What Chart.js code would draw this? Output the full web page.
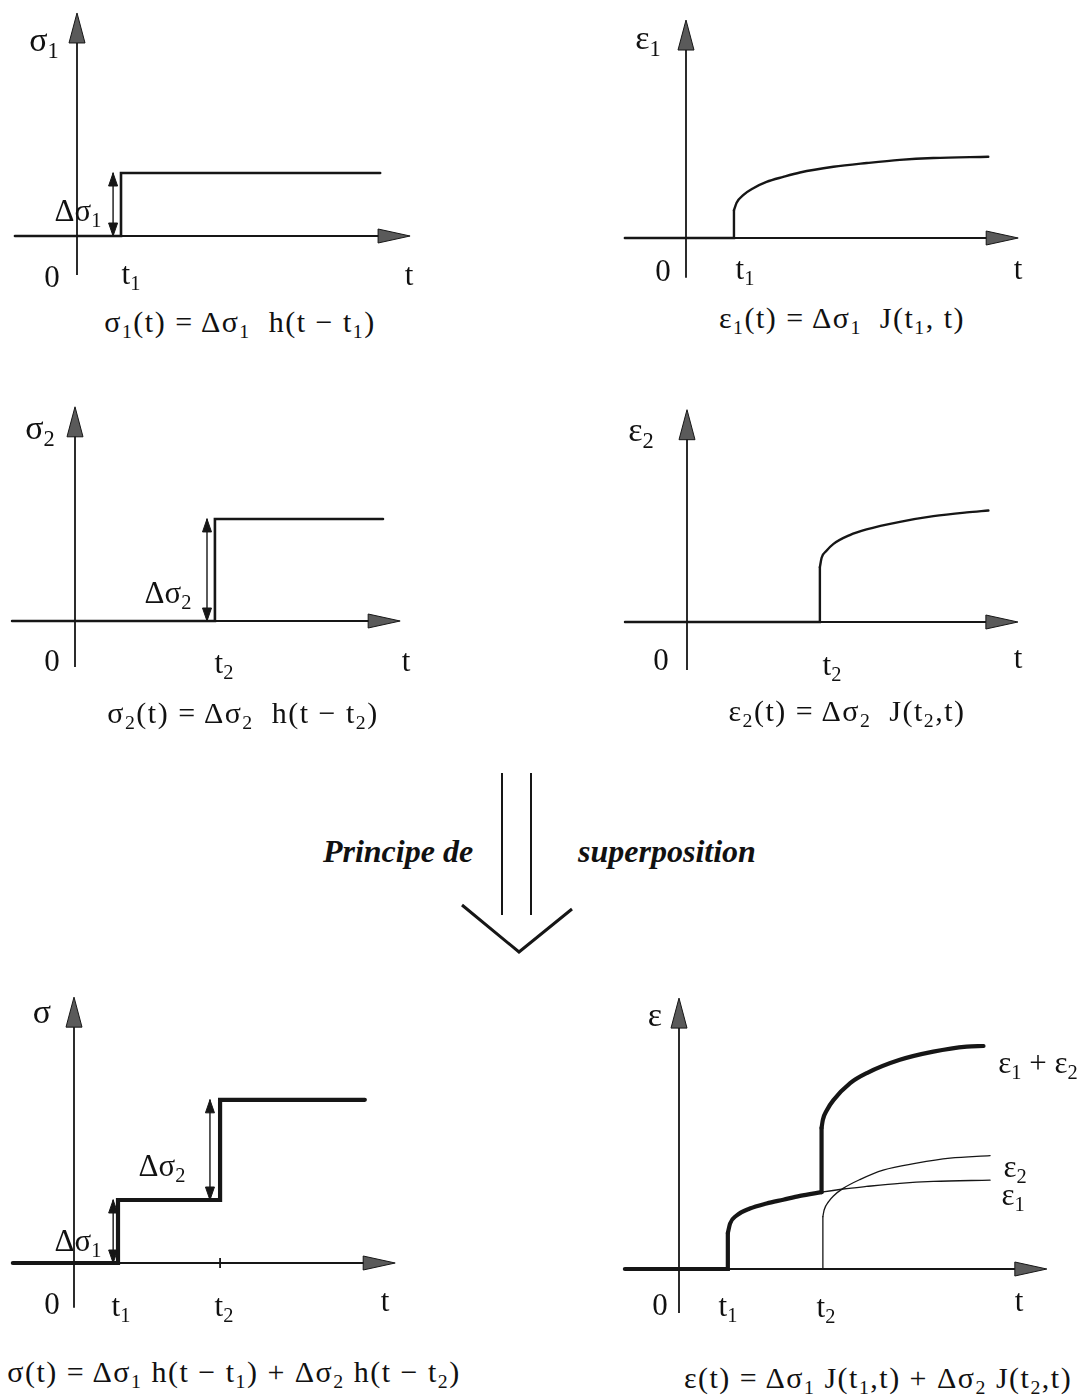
<!DOCTYPE html>
<html>
<head>
<meta charset="utf-8">
<script src="https://cdn.jsdelivr.net/npm/chart.js@4.4.0/dist/chart.umd.min.js"></script>
<style>
  body { margin: 0; background: #fff; }
  #page { position: relative; width: 1089px; height: 1396px; overflow: hidden;
          font-family: 'Liberation Serif', 'Times New Roman', serif; color: #111; }
  canvas { position: absolute; }
  .lbl { position: absolute; transform: translate(-50%, -50%); white-space: nowrap; line-height: 1; z-index: 2; }
  .lbl sub { font-size: 0.66em; vertical-align: -0.32em; line-height: 0; }
  .ax { font-size: 34px; }
  .tk { font-size: 31px; }
  .fm { font-size: 30px; letter-spacing: 1.5px; }
  .pr { font-size: 32px; font-weight: bold; font-style: italic; }
</style>
</head>
<body>
<div id="page">
  <svg width="1089" height="1396" style="position:absolute;left:0;top:0">
    <g stroke="#161616" fill="none">
      <line x1="502" y1="773" x2="502" y2="915" stroke-width="2"/>
      <line x1="531" y1="773" x2="531" y2="915" stroke-width="2"/>
      <polyline points="462,905 519,952 572,909" stroke-width="3"/>
    </g>
  </svg>
</div>
<script>
const INK = '#161616';
const KX = 44, KY = 63; // px per time unit / per stress unit

// time in units where t1 ~ 1, values in units of delta sigma 1

// 1. sigma1 step
const s1T = [-1.41, 1.0, 1.0, 6.89];
const s1V = [0, 0, 1.0, 1.0];
const s1Arrow = [0.82, 0, 1.0];

// 2. eps1 creep
const e1JumpT = [-1.39, 1.09, 1.09];
const e1JumpV = [0, 0, 0.44];
const e1T = [1.09, 1.15, 1.30, 1.53, 1.83, 2.21, 2.59, 3.35, 4.11, 4.86, 5.62, 6.87];
const e1V = [0.44, 0.56, 0.68, 0.79, 0.89, 0.97, 1.04, 1.13, 1.19, 1.24, 1.27, 1.29];

// 3. sigma2 step
const s2T = [-1.43, 3.18, 3.18, 7.0];
const s2V = [0, 0, 1.62, 1.62];
const s2Arrow = [3.0, 0, 1.62];

// 4. eps2 creep
const e2JumpT = [-1.41, 3.02, 3.02];
const e2JumpV = [0, 0, 0.87];
const e2T = [3.02, 3.06, 3.17, 3.33, 3.70, 4.08, 4.84, 5.60, 6.36, 6.85];
const e2V = [0.87, 1.02, 1.13, 1.24, 1.38, 1.47, 1.59, 1.68, 1.74, 1.77];

// 5. total stress
const sT = [-1.39, 1.0, 1.0, 3.32, 3.32, 6.61];
const sV = [0, 0, 1.0, 1.0, 2.59, 2.59];
const sArrow1 = [0.89, 0, 1.0];
const sArrow2 = [3.09, 1.0, 2.59];
const sTicks = [3.32];

// 6. total strain
const eJumpT = [-1.23, 1.11, 1.11];
const eJumpV = [0, 0, 0.57];
const eE1T = [1.11, 1.16, 1.31, 1.61, 1.99, 2.37, 2.75, 3.24, 3.73, 4.26, 5.02, 5.78, 7.07];
const eE1V = [0.57, 0.72, 0.85, 0.96, 1.04, 1.10, 1.16, 1.22, 1.27, 1.31, 1.36, 1.39, 1.41];
const eE2JumpT = [3.27, 3.27];
const eE2JumpV = [0, 0.83];
const eE2T = [3.27, 3.30, 3.40, 3.51, 3.73, 4.11, 4.64, 5.40, 6.16, 7.07];
const eE2V = [0.83, 0.94, 1.07, 1.16, 1.28, 1.42, 1.57, 1.68, 1.76, 1.80];
const eSumJumpT = [3.24, 3.24];
const eSumJumpV = [1.22, 2.24];
const eSumT = [3.24, 3.27, 3.36, 3.51, 3.89, 4.27, 5.02, 5.78, 6.54, 6.92];
const eSumV = [2.24, 2.37, 2.52, 2.68, 2.95, 3.11, 3.32, 3.45, 3.53, 3.54];

function pts(xs, ys) { return xs.map((x, i) => ({ x: x, y: ys[i] })); }

function line(xs, ys, width, smooth) {
  return {
    data: pts(xs, ys), showLine: true, borderColor: INK, borderWidth: width,
    pointRadius: 0, fill: false, tension: 0, borderCapStyle: 'round',
    cubicInterpolationMode: smooth ? 'monotone' : 'default'
  };
}

function arrow(a) {
  const ds = line([a[0], a[0]], [a[1], a[2]], 1.4, false);
  ds.arrowEnds = true;
  return ds;
}

function head(ctx, tx, ty, dx, dy, len, hw, fill) {
  const bx = tx - dx * len, by = ty - dy * len;
  ctx.beginPath();
  ctx.moveTo(tx, ty);
  ctx.lineTo(bx - dy * hw, by + dx * hw);
  ctx.lineTo(bx + dy * hw, by - dx * hw);
  ctx.closePath();
  ctx.fillStyle = fill;
  ctx.fill();
  ctx.lineWidth = 1;
  ctx.strokeStyle = INK;
  ctx.stroke();
}

const axesPlugin = {
  id: 'axes',
  beforeDatasetsDraw(chart, args, opts) {
    const ctx = chart.ctx, x = chart.scales.x, y = chart.scales.y;
    const x0 = x.getPixelForValue(0), y0 = y.getPixelForValue(0);
    const xa = x.getPixelForValue(opts.ext[0]), xb = x.getPixelForValue(opts.ext[1]);
    const ya = y.getPixelForValue(opts.ext[2]), yb = y.getPixelForValue(opts.ext[3]);
    ctx.save();
    ctx.strokeStyle = INK;
    ctx.lineWidth = 1.8;
    ctx.beginPath();
    ctx.moveTo(xa, y0); ctx.lineTo(xb - 12, y0);
    ctx.moveTo(x0, ya); ctx.lineTo(x0, yb + 12);
    ctx.stroke();
    (opts.ticks || []).forEach(t => {
      const px = x.getPixelForValue(t);
      ctx.beginPath(); ctx.moveTo(px, y0 - 5); ctx.lineTo(px, y0 + 5); ctx.stroke();
    });
    head(ctx, xb, y0, 1, 0, 32, 7, '#5a5a5a');
    head(ctx, x0, yb, 0, -1, 30, 8, '#5a5a5a');
    ctx.restore();
  },
  afterDatasetsDraw(chart) {
    const ctx = chart.ctx;
    ctx.save();
    chart.data.datasets.forEach((ds, i) => {
      if (!ds.arrowEnds) return;
      const p = chart.getDatasetMeta(i).data;
      const a = p[0], b = p[p.length - 1];
      const dx = b.x - a.x, dy = b.y - a.y, L = Math.hypot(dx, dy);
      head(ctx, b.x, b.y, dx / L, dy / L, 13, 4.5, INK);
      head(ctx, a.x, a.y, -dx / L, -dy / L, 13, 4.5, INK);
    });
    ctx.restore();
  }
};

const panels = [
  { box: { l: 0, t: 0, w: 440, h: 300 }, origin: { x: 77, y: 236 }, ext: [-1.41, 7.57, -0.62, 3.54],
    sets: [line(s1T, s1V, 2.6), arrow(s1Arrow)] },
  { box: { l: 600, t: 0, w: 460, h: 300 }, origin: { x: 686, y: 238 }, ext: [-1.39, 7.55, -0.63, 3.46],
    sets: [line(e1JumpT, e1JumpV, 2.4), line(e1T, e1V, 2.4, true)] },
  { box: { l: 0, t: 390, w: 440, h: 300 }, origin: { x: 75, y: 621 }, ext: [-1.43, 7.39, -0.73, 3.40],
    sets: [line(s2T, s2V, 2.6), arrow(s2Arrow)] },
  { box: { l: 600, t: 390, w: 460, h: 300 }, origin: { x: 687, y: 622 }, ext: [-1.41, 7.52, -0.76, 3.37],
    sets: [line(e2JumpT, e2JumpV, 2.4), line(e2T, e2V, 2.4, true)] },
  { box: { l: 0, t: 980, w: 440, h: 350 }, origin: { x: 74, y: 1263 }, ext: [-1.39, 7.30, -0.71, 4.22], ticks: sTicks,
    sets: [line(sT, sV, 4.2), arrow(sArrow1), arrow(sArrow2)] },
  { box: { l: 600, t: 980, w: 489, h: 350 }, origin: { x: 679, y: 1269 }, ext: [-1.23, 8.36, -0.70, 4.30],
    sets: [
      line(eE1T, eE1V, 1.3, true),
      line(eE2JumpT, eE2JumpV, 1.3),
      line(eE2T, eE2V, 1.3, true),
      line(eJumpT, eJumpV, 4.2),
      line(eE1T.slice(0, 8), eE1V.slice(0, 8), 4.2, true),
      line(eSumJumpT, eSumJumpV, 4.2),
      line(eSumT, eSumV, 4.2, true)
    ] }
];

const page = document.getElementById('page');

panels.forEach(p => {
  const cv = document.createElement('canvas');
  cv.width = p.box.w; cv.height = p.box.h;
  cv.style.left = p.box.l + 'px'; cv.style.top = p.box.t + 'px';
  cv.style.width = p.box.w + 'px'; cv.style.height = p.box.h + 'px';
  page.appendChild(cv);
  new Chart(cv, {
    type: 'scatter',
    data: { datasets: p.sets },
    options: {
      responsive: false, animation: false, devicePixelRatio: 1, events: [],
      layout: { padding: 0 },
      scales: {
        x: { type: 'linear', display: false,
             min: (p.box.l - p.origin.x) / KX, max: (p.box.l + p.box.w - p.origin.x) / KX },
        y: { type: 'linear', display: false,
             min: (p.origin.y - p.box.t - p.box.h) / KY, max: (p.origin.y - p.box.t) / KY }
      },
      plugins: { legend: { display: false }, tooltip: { enabled: false },
                 axes: { ext: p.ext, ticks: p.ticks } }
    },
    plugins: [axesPlugin]
  });
});

const texts = [
  ['σ<sub>1</sub>', 44, 40, 'ax'], ['0', 52, 276, 'tk'], ['t<sub>1</sub>', 131, 273, 'tk'], ['t', 409, 274, 'tk'],
  ['Δσ<sub>1</sub>', 78, 210, 'tk'],
  ['σ<sub>1</sub>(t) = Δσ<sub>1</sub>&nbsp; h(t − t<sub>1</sub>)', 240, 322, 'fm'],

  ['ε<sub>1</sub>', 648, 38, 'ax'], ['0', 663, 270, 'tk'], ['t<sub>1</sub>', 745, 268, 'tk'], ['t', 1018, 268, 'tk'],
  ['ε<sub>1</sub>(t) = Δσ<sub>1</sub>&nbsp; J(t<sub>1</sub>, t)', 842, 318, 'fm'],

  ['σ<sub>2</sub>', 40, 428, 'ax'], ['0', 52, 660, 'tk'], ['t<sub>2</sub>', 224, 662, 'tk'], ['t', 406, 660, 'tk'],
  ['Δσ<sub>2</sub>', 168, 592, 'tk'],
  ['σ<sub>2</sub>(t) = Δσ<sub>2</sub>&nbsp; h(t − t<sub>2</sub>)', 243, 713, 'fm'],

  ['ε<sub>2</sub>', 641, 430, 'ax'], ['0', 661, 659, 'tk'], ['t<sub>2</sub>', 832, 664, 'tk'], ['t', 1018, 657, 'tk'],
  ['ε<sub>2</sub>(t) = Δσ<sub>2</sub>&nbsp; J(t<sub>2</sub>,t)', 847, 711, 'fm'],

  ['Principe de', 398, 851, 'pr'], ['superposition', 667, 851, 'pr'],

  ['σ', 42, 1012, 'ax'], ['0', 52, 1303, 'tk'], ['t<sub>1</sub>', 121, 1305, 'tk'], ['t<sub>2</sub>', 224, 1305, 'tk'],
  ['t', 385, 1300, 'tk'], ['Δσ<sub>1</sub>', 78, 1240, 'tk'], ['Δσ<sub>2</sub>', 162, 1165, 'tk'],
  ['σ(t) = Δσ<sub>1</sub> h(t − t<sub>1</sub>) + Δσ<sub>2</sub> h(t − t<sub>2</sub>)', 234, 1372, 'fm'],

  ['ε', 655, 1015, 'ax'], ['0', 660, 1304, 'tk'], ['t<sub>1</sub>', 728, 1305, 'tk'], ['t<sub>2</sub>', 826, 1306, 'tk'],
  ['t', 1019, 1300, 'tk'],
  ['ε<sub>1</sub> + ε<sub>2</sub>', 1038, 1062, 'tk'], ['ε<sub>2</sub>', 1015, 1166, 'tk'], ['ε<sub>1</sub>', 1013, 1194, 'tk'],
  ['ε(t) = Δσ<sub>1</sub> J(t<sub>1</sub>,t) + Δσ<sub>2</sub> J(t<sub>2</sub>,t)', 878, 1378, 'fm']
];

texts.forEach(t => {
  const d = document.createElement('div');
  d.className = 'lbl ' + t[3];
  d.innerHTML = t[0];
  d.style.left = t[1] + 'px';
  d.style.top = t[2] + 'px';
  page.appendChild(d);
});
</script>
</body>
</html>
